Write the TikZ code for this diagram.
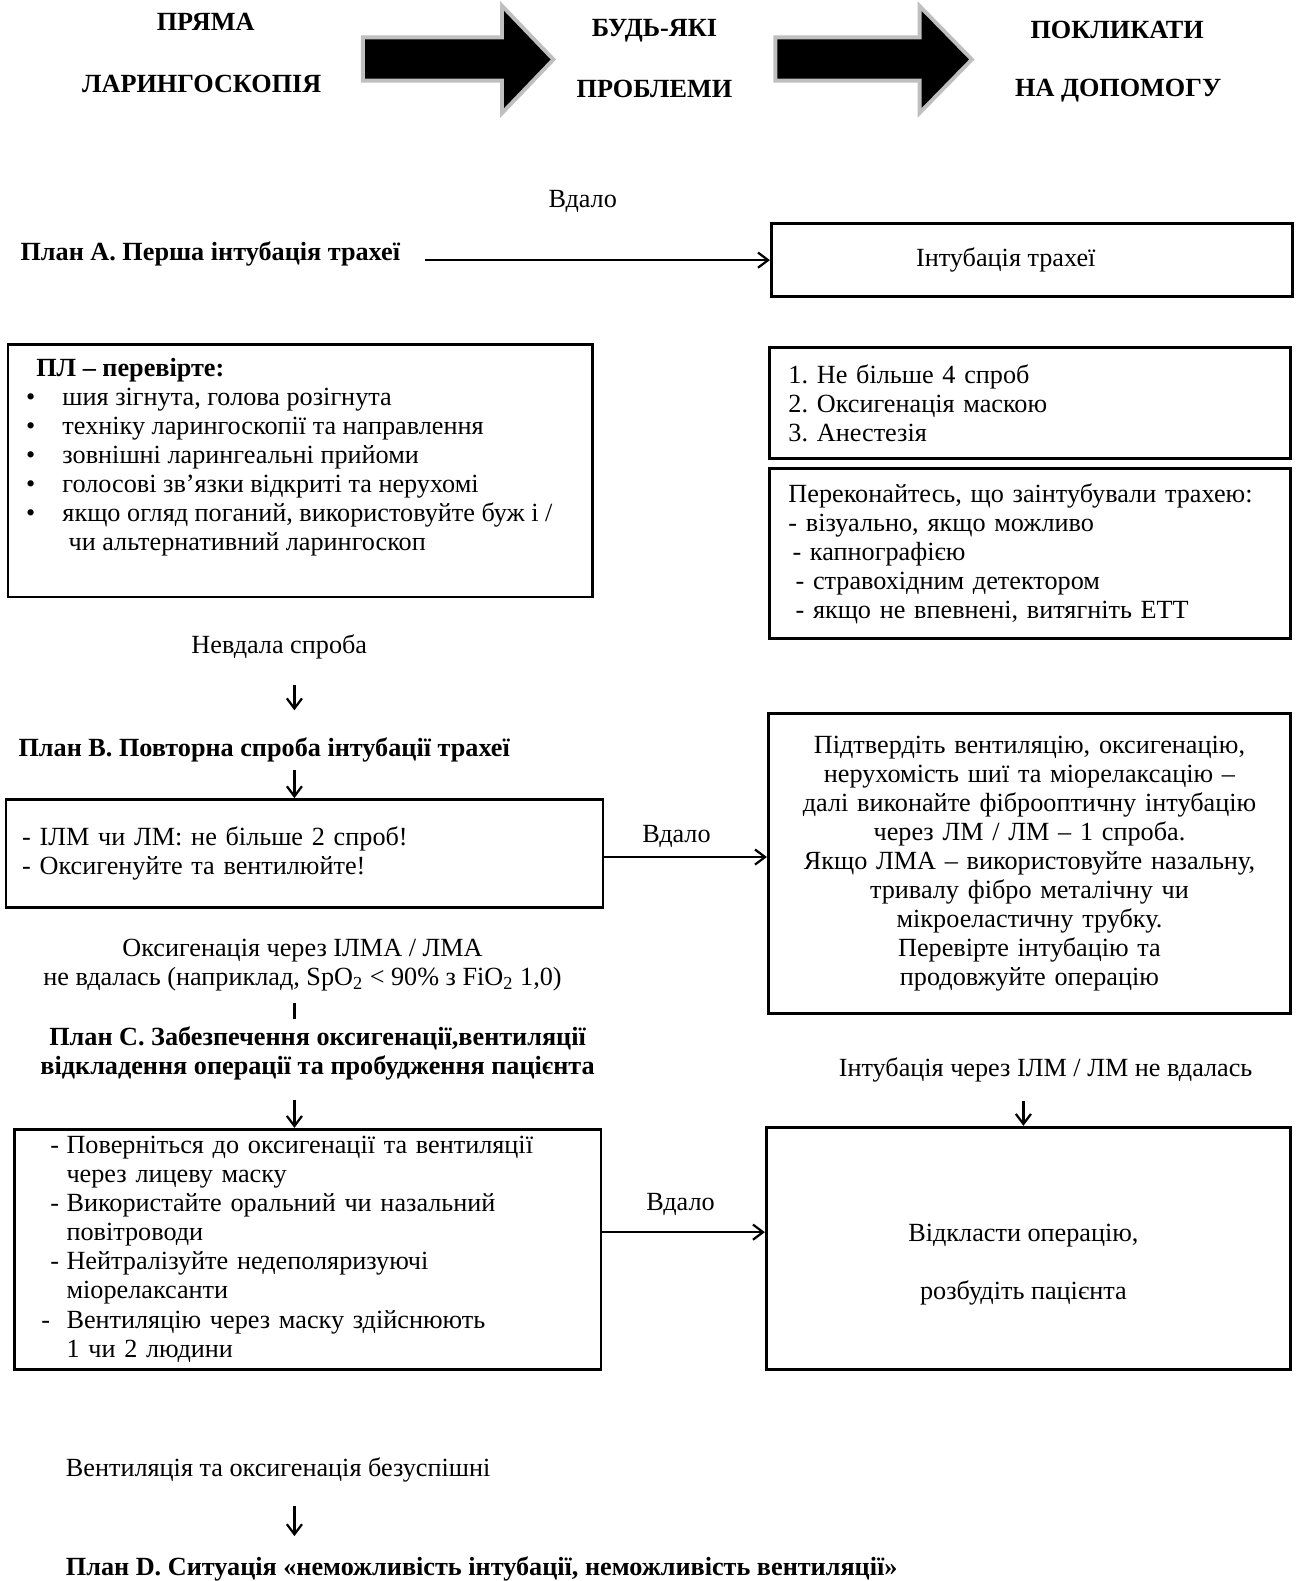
\documentclass[tikz,border=0pt]{standalone}
\usepackage{fontspec}
\setmainfont{Liberation Serif}
\usetikzlibrary{arrows.meta,positioning}
\frenchspacing
\tikzset{
  block/.style={draw=black, line width=1.4pt, inner sep=0pt, font=\fontsize{13}{14.4}\selectfont},
  lbl/.style={inner sep=0pt, align=center, font=\fontsize{13}{14.4}\selectfont},
  plan/.style={lbl, font=\fontsize{13}{14.4}\selectfont\bfseries},
  head/.style={inner sep=0pt, font=\fontsize{13}{15}\selectfont\bfseries},
  arr/.style={-{Straight Barb[length=5pt,width=7.5pt]}, line width=1.1pt},
  bigarr/.style={fill=black, preaction={draw=black!25, line width=4pt, line join=miter}}
}
\newcommand{\blt}{\makebox[18pt][l]{\textbullet}}
\newcommand{\dsh}[1]{\hspace*{#1}\makebox[8pt][l]{-}}

\begin{document}
\begin{tikzpicture}[x=0.5pt, y=-0.5pt]
  \useasboundingbox (0,0) rectangle (1288,1568);

  % header row
  \node[head] (t1a) at (204,22) {ПРЯМА};
  \node[head] (t1b) at (200,83) {ЛАРИНГОСКОПІЯ};
  \node[head] (t2a) at (649,30) {БУДЬ-ЯКІ};
  \node[head] (t2b) at (649,88) {ПРОБЛЕМИ};
  \node[head] (t3a) at (1108,30) {ПОКЛИКАТИ};
  \node[head] (t3b) at (1109,90) {НА ДОПОМОГУ};
  \foreach \xa/\xb/\xc in {362/500/546, 771/914/961}
    \path[bigarr] (\xa,39) -- (\xb,39) -- (\xb,11) -- (\xc,59) -- (\xb,107) -- (\xb,78) -- (\xa,78) -- cycle;

  % plan A
  \node[lbl] (vdA) at (578,200) {Вдало};
  \node[plan, anchor=west] (planA) at (20,252) {План А. Перша інтубація трахеї};
  \node[block, minimum width=258.5pt, minimum height=36pt] (intub) at (1023.5,258) {};
  \node[lbl] (intubT) at ([xshift=-13pt]intub.center) {Інтубація трахеї};
  \draw[arr, shorten <=12pt] (planA.east |- intub.west) -- (intub.west);

  \node[block, minimum width=290pt, minimum height=125pt] (pl) at (298,467) {};
  \node[lbl, align=left, anchor=north west] (plT) at ([shift={(19,14)}]pl.north west)
    {\hspace*{5pt}\textbf{ПЛ – перевірте:}\\
     \blt шия зігнута, голова розігнута\\
     \blt техніку ларингоскопії та направлення\\
     \blt зовнішні ларингеальні прийоми\\
     \blt голосові зв’язки відкриті та нерухомі\\
     \blt якщо огляд поганий, використовуйте буж і /\\
     \hspace*{21pt}чи альтернативний ларингоскоп};

  \node[block, minimum width=258.5pt, minimum height=55pt, text width=239.5pt, align=left] (att) at (1021.5,400)
    {1. Не більше 4 спроб\\2. Оксигенація маскою\\3. Анестезія};
  \node[block, minimum width=258.5pt, minimum height=84pt, text width=239.5pt, align=left] (chk) at (1021.5,549)
    {Переконайтесь, що заінтубували трахею:\\
     - візуально, якщо можливо\\
     \hspace*{2pt}- капнографією\\
     \hspace*{3.5pt}- стравохідним детектором\\
     \hspace*{3.5pt}- якщо не впевнені, витягніть ЕТТ};

  % plan B
  \coordinate (colL) at (292,0);
  \node[lbl] (nevd) at (277,642) {Невдала спроба};
  \node[plan, anchor=west] (planB) at (18,744) {План В. Повторна спроба інтубації трахеї};
  \node[block, minimum width=296pt, minimum height=53.5pt, text width=280pt, align=left] (bbox) at (302,846.5)
    {- ІЛМ чи ЛМ: не більше 2 спроб!\\- Оксигенуйте та вентилюйте!};
  \node[block, minimum width=259pt, minimum height=148.5pt, text width=249pt, align=center] (fib) at (1021,856.5)
    {Підтвердіть вентиляцію, оксигенацію,\\
     нерухомість шиї та міорелаксацію –\\
     далі виконайте фіброоптичну інтубацію\\
     через ЛМ / ЛМ – 1 спроба.\\
     Якщо ЛМА – використовуйте назальну,\\
     тривалу фібро металічну чи\\
     мікроеластичну трубку.\\
     Перевірте інтубацію та\\
     продовжуйте операцію};
  \coordinate (rowB) at (0,850);
  \node[lbl] (vdB) at (671,830) {Вдало};
  \draw[arr, shorten <=12.5pt, shorten >=13.5pt] (nevd.south -| colL) -- (planB.north -| colL);
  \draw[arr, shorten <=3.5pt] (planB.south -| colL) -- (bbox.north -| colL);
  \draw[arr] (bbox.east |- rowB) -- (fib.west |- rowB);

  % plan C
  \node[lbl] (oxfail) at (300,957.5) {Оксигенація через ІЛМА / ЛМА\\
    не вдалась (наприклад, SpO\textsubscript{2} < 90\% з FiO\textsubscript{2} 1,0)};
  \node[plan] (planC) at (315,1045) {План С. Забезпечення оксигенації,вентиляції\\
    відкладення операції та пробудження пацієнта};
  \node[lbl] (ilmfail) at (1037,1061) {Інтубація через ІЛМ / ЛМ не вдалась};
  \node[block, minimum width=291pt, minimum height=119pt, text width=264pt, align=left] (cbox) at (305,1239)
    {\dsh{4.5pt}Поверніться до оксигенації та вентиляції\\
     \hspace*{12.5pt}через лицеву маску\\
     \dsh{4.5pt}Використайте оральний чи назальний\\
     \hspace*{12.5pt}повітроводи\\
     \dsh{4.5pt}Нейтралізуйте недеполяризуючі\\
     \hspace*{12.5pt}міорелаксанти\\
     \makebox[12.5pt][l]{-}Вентиляцію через маску здійснюють\\
     \hspace*{12.5pt}1 чи 2 людини};
  \node[block, minimum width=260pt, minimum height=120pt] (wake) at (1020,1238) {};
  \node[lbl] (wakeT) at ([shift={(-5,16)}]wake.center) {Відкласти операцію,\\[14.5pt]розбудіть пацієнта};
  \coordinate (colR) at (1015,0);
  \coordinate (rowC) at (0,1222);
  \node[lbl] (vdC) at (675,1195) {Вдало};
  \draw[line width=1.5pt, shorten <=5.5pt, shorten >=3.5pt] (oxfail.south -| colL) -- (planC.north -| colL);
  \draw[arr, shorten <=9.5pt] (planC.south -| colL) -- (cbox.north -| colL);
  \draw[arr, shorten <=9pt] (ilmfail.south -| colR) -- (wake.north -| colR);
  \draw[arr] (cbox.east |- rowC) -- (wake.west |- rowC);

  % plan D
  \node[lbl, anchor=west] (vent) at (65,1458) {Вентиляція та оксигенація безуспішні};
  \node[plan, anchor=west] (planD) at (65,1556) {План D. Ситуація «неможливість інтубації, неможливість вентиляції»};
  \draw[arr, shorten <=11.5pt, shorten >=10pt] (vent.south -| colL) -- (planD.north -| colL);
\end{tikzpicture}
\end{document}
